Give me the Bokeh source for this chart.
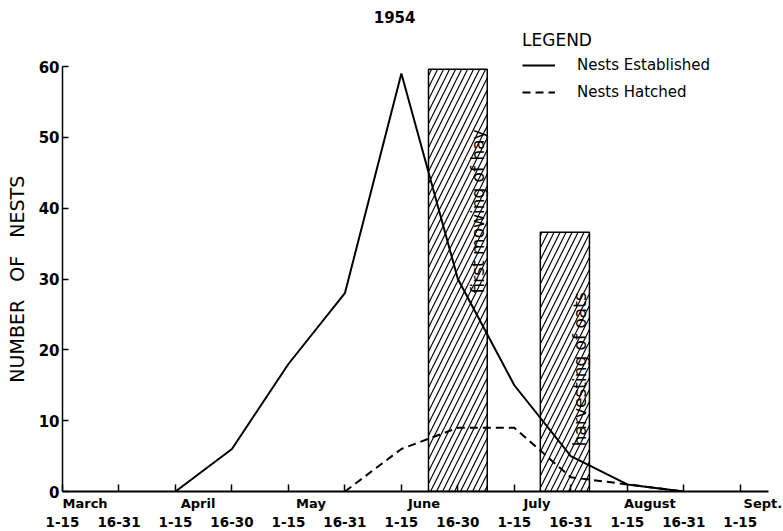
import math
from bokeh.plotting import figure
from bokeh.models import (Label, FixedTicker, Legend, LegendItem, LinearAxis,
                          Range1d, ColumnDataSource)
from bokeh.embed import file_html
from bokeh.resources import INLINE
from bokeh.core.properties import value

# ---- data ----
periods = ["1-15", "16-31", "1-15", "16-30", "1-15", "16-31", "1-15",
           "16-30", "1-15", "16-31", "1-15", "16-31", "1-15"]
months = ["March", "April", "May", "June", "July", "August", "Sept."]
month_start = [0, 2, 4, 6, 8, 10, 12]

est_x = [2, 3, 4, 5, 6, 7, 8, 9, 10, 11]
est_y = [0, 6, 18, 28, 59, 30, 15, 5, 1, 0]

hat_x = [5, 6, 7, 8, 9, 10, 11]
hat_y = [0, 6, 9, 9, 2, 1, 0]

ops = ["first mowing of hay", "harvesting of oats"]
op_left = [6.48, 8.46]
op_right = [7.52, 9.33]
op_top = [59.6, 36.6]

y_ticks = [0, 10, 20, 30, 40, 50, 60]

# ---- layout ----
W, H = 783, 531
FRAME_L, FRAME_W = 62, 706
FRAME_H = 491
PXU = 425 / 60.0
Y_END = FRAME_H / PXU
MONTH_SHIFT = 0.40
NB = "\u00a0"

p = figure(width=W, height=H, output_backend="svg", toolbar_location=None,
           x_range=Range1d(0, 12.5), y_range=Range1d(0, Y_END),
           min_border_left=FRAME_L, min_border_right=W - FRAME_L - FRAME_W,
           min_border_top=0, min_border_bottom=H - FRAME_H)
p.outline_line_color = None
p.grid.visible = False
p.background_fill_color = "white"

# hatched operation bars
p.quad(left=op_left, right=op_right, bottom=0, top=op_top,
       fill_color="white", line_color="black", line_width=1.5,
       hatch_pattern="/", hatch_color="black", hatch_scale=12, hatch_weight=1.2)

op_src = ColumnDataSource(dict(x=op_right, y=op_top, t=ops))
p.text(x="x", y="y", text="t", source=op_src, angle=math.pi / 2,
       x_offset=-9, y_offset=60, text_align="right", text_baseline="middle",
       text_font=value("DejaVu Sans"), text_font_size="17px", text_color="black")

r_est = p.line(est_x, est_y, line_color="black", line_width=2)
r_hat = p.line(hat_x, hat_y, line_color="black", line_width=2, line_dash="8 5")

# x axis: half-month ticks (minor) and month names (major labels)
xa = p.xaxis[0]
month_pos = [m + MONTH_SHIFT for m in month_start]
xa.ticker = FixedTicker(ticks=month_pos, minor_ticks=list(range(len(periods))))
xa.major_label_overrides = {pos: name for pos, name in zip(month_pos, months)}
xa.major_tick_line_color = None
xa.major_tick_in = 0
xa.major_tick_out = 0
xa.minor_tick_in = 7
xa.minor_tick_out = 0
xa.minor_tick_line_width = 1.5
xa.minor_tick_line_color = "black"
xa.axis_line_width = 2
xa.axis_line_color = "black"
xa.major_label_standoff = 4
xa.major_label_text_font = "DejaVu Sans"
xa.major_label_text_font_style = "bold"
xa.major_label_text_font_size = "13px"
xa.major_label_text_color = "black"

xb = LinearAxis(ticker=FixedTicker(ticks=list(range(len(periods)))),
                major_label_overrides={i: t for i, t in enumerate(periods)})
xb.axis_line_color = None
xb.major_tick_line_color = None
xb.minor_tick_line_color = None
xb.major_tick_in = 0
xb.major_tick_out = 0
xb.major_label_standoff = 3
xb.major_label_text_font = "DejaVu Sans"
xb.major_label_text_font_style = "bold"
xb.major_label_text_font_size = "13.5px"
xb.major_label_text_color = "black"
p.add_layout(xb, "below")

# y axis
ya = p.yaxis[0]
ya.ticker = FixedTicker(ticks=y_ticks)
ya.bounds = (0, 60)
ya.major_tick_in = 6
ya.major_tick_out = 0
ya.minor_tick_line_color = None
ya.axis_line_width = 1.5
ya.axis_line_color = "black"
ya.major_tick_line_width = 1.5
ya.major_tick_line_color = "black"
ya.major_label_standoff = 3
ya.major_label_text_font = "DejaVu Sans"
ya.major_label_text_font_style = "bold"
ya.major_label_text_font_size = "15px"
ya.major_label_text_color = "black"
ya.axis_label = "NUMBER" + NB * 3 + "OF" + NB * 3 + "NESTS" + NB * 11
ya.axis_label_text_font = "DejaVu Sans"
ya.axis_label_text_font_style = "normal"
ya.axis_label_text_font_size = "19px"
ya.axis_label_text_color = "black"
ya.axis_label_standoff = 8

# title
p.add_layout(Label(x=5.88, y=(FRAME_H - 16) / PXU, text="1954",
                   text_align="center", text_baseline="middle",
                   text_font="DejaVu Sans", text_font_style="bold",
                   text_font_size="15px", text_color="black"))

# legend
legend = Legend(items=[LegendItem(label="Nests Established", renderers=[r_est]),
                       LegendItem(label="Nests Hatched", renderers=[r_hat])],
                title="LEGEND", location=(460, 389))
legend.title_text_font = "DejaVu Sans"
legend.title_text_font_style = "normal"
legend.title_text_font_size = "17px"
legend.title_text_color = "black"
legend.title_standoff = 5
legend.label_text_font = "DejaVu Sans"
legend.label_text_font_size = "15px"
legend.label_text_color = "black"
legend.glyph_width = 33
legend.glyph_height = 20
legend.label_height = 20
legend.label_standoff = 22
legend.spacing = 7
legend.padding = 0
legend.margin = 0
legend.border_line_color = None
legend.background_fill_alpha = 0
p.add_layout(legend)

open("out.html", "w").write(file_html(p, INLINE))
